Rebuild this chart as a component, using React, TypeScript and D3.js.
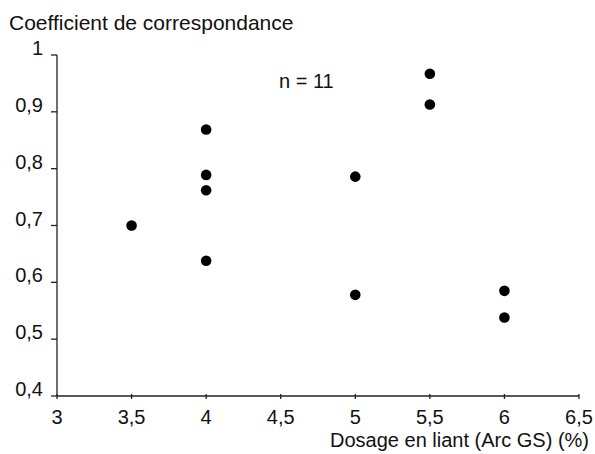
import React from "react";
import * as d3 from "d3";

const dosage = [3.5, 4, 4, 4, 4, 5, 5, 5.5, 5.5, 6, 6];
const coefficient = [0.7, 0.869, 0.789, 0.762, 0.638, 0.786, 0.578, 0.967, 0.913, 0.585, 0.538];
const xTicks = [3, 3.5, 4, 4.5, 5, 5.5, 6, 6.5];
const yTicks = [0.4, 0.5, 0.6, 0.7, 0.8, 0.9, 1];
const yTitle = "Coefficient de correspondance";
const xTitle = "Dosage en liant (Arc GS) (%)";
const note = "n = 11";

const W = 595;
const H = 454;
const font = "'Liberation Sans', Arial, Helvetica, sans-serif";
const fs = 20;
const fmt = (v: number) => String(v).replace(".", ",");

export default function App() {
  const x = d3.scaleLinear().domain([3, 6.5]).range([57, 579]);
  const y = d3.scaleLinear().domain([0.4, 1]).range([396, 55]);
  return (
    <svg width={W} height={H} style={{ position: "absolute", left: 0, top: 0, background: "#fff" }} fontFamily={font}>
      <rect width={W} height={H} fill="#fff" />
      <text x={9} y={30} fontSize={21} fill="#111">{yTitle}</text>
      <line x1={x(3)} x2={x(3)} y1={y(1)} y2={y(0.4)} stroke="#222" strokeWidth={1.3} />
      <line x1={x(3)} x2={x(6.5)} y1={y(0.4)} y2={y(0.4)} stroke="#222" strokeWidth={1.3} />
      {yTicks.map((t) => (
        <g key={"y" + t}>
          <line x1={x(3) - 6} x2={x(3)} y1={y(t)} y2={y(t)} stroke="#222" strokeWidth={1.3} />
          <text x={43} y={y(t)} fontSize={fs} textAnchor="end" fill="#111">{fmt(t)}</text>
        </g>
      ))}
      {xTicks.map((t) => (
        <g key={"x" + t}>
          <line x1={x(t)} x2={x(t)} y1={y(0.4) - 2} y2={y(0.4) + 3} stroke="#222" strokeWidth={1.3} />
          <text x={x(t)} y={424} fontSize={fs} textAnchor="middle" fill="#111">{fmt(t)}</text>
        </g>
      ))}
      <text x={589} y={447} fontSize={fs} textAnchor="end" fill="#111">{xTitle}</text>
      <text x={279} y={88} fontSize={fs} fill="#111">{note}</text>
      {dosage.map((d, i) => (
        <circle key={i} cx={x(d)} cy={y(coefficient[i])} r={5.3} fill="#000" />
      ))}
    </svg>
  );
}
